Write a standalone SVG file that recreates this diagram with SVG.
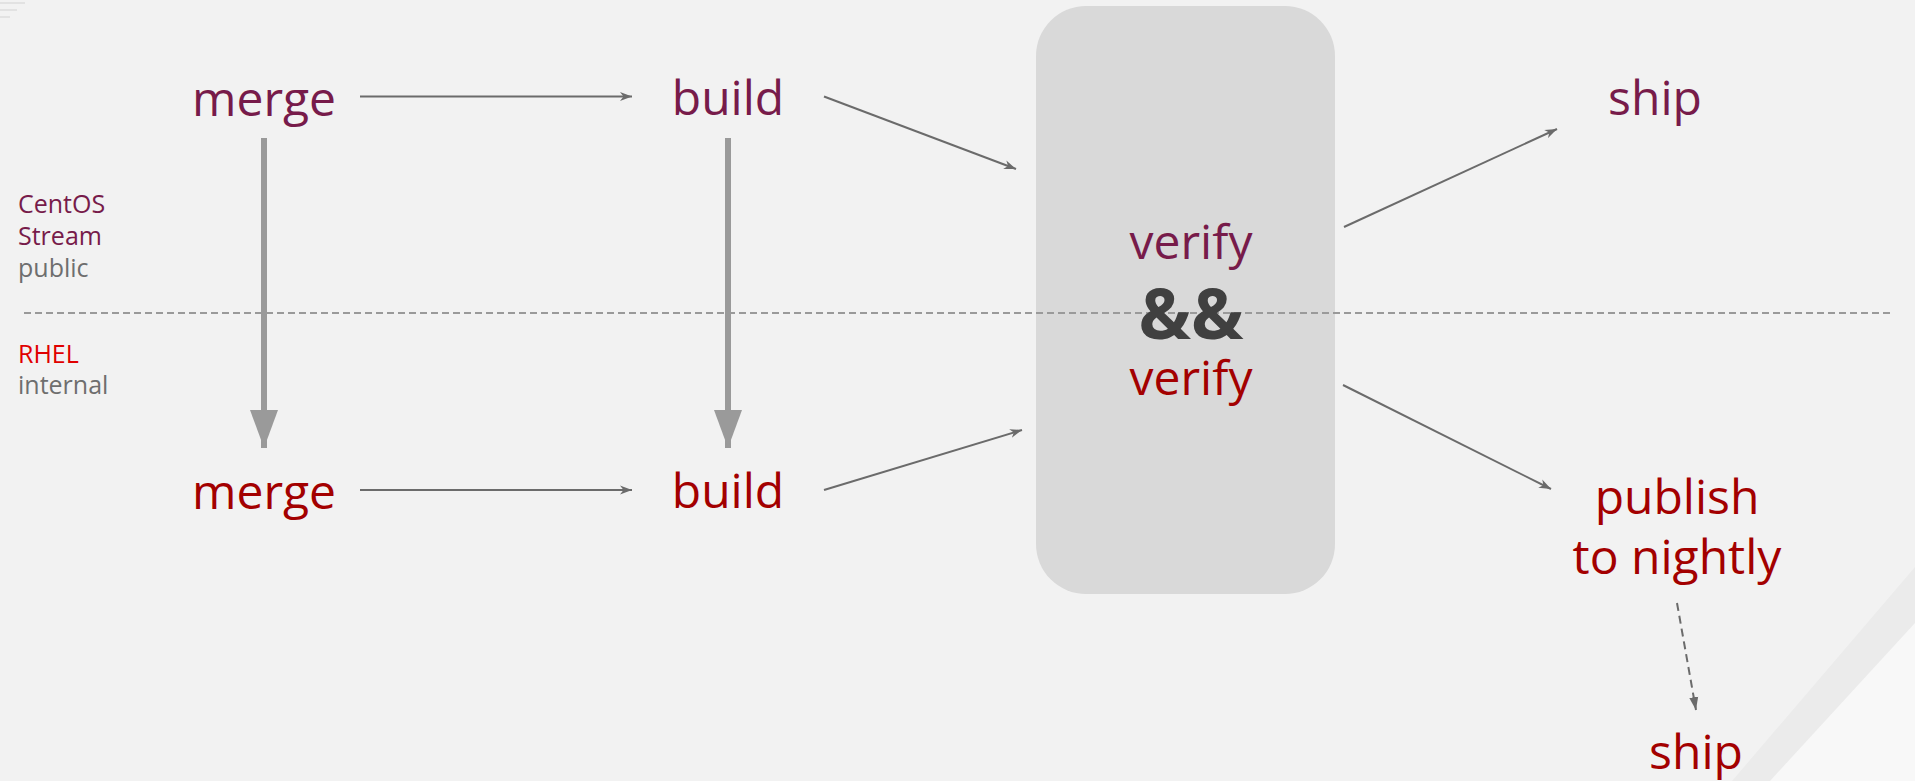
<svg xmlns="http://www.w3.org/2000/svg" width="1915" height="781" viewBox="0 0 1915 781">
  <style>
    .t { font-family: "Open Sans", "Liberation Sans", sans-serif; font-size: 48px; text-anchor: middle; }
    .amp { font-size: 70px; font-weight: bold; fill: #404040; }
    .pub { fill: #771b4a; }
    .int { fill: #a30000; }
    .leg { font-family: "Open Sans", "Liberation Sans", sans-serif; font-size: 25px; }
    .gray { fill: #6e6e6e; }
    .thin { stroke: #6b6b6b; stroke-width: 2; fill: none; marker-end: url(#ah); }
    .thick { stroke: #9a9a9a; stroke-width: 6; fill: none; marker-end: url(#bh); }
  </style>
  <defs>
    <marker id="ah" markerUnits="userSpaceOnUse" markerWidth="13" markerHeight="10" refX="12" refY="4.5" orient="auto" viewBox="0 0 13 9">
      <path d="M0,0 L12,4.5 L0,9 L3.5,4.5 z" fill="#6b6b6b"/>
    </marker>
    <marker id="bh" markerUnits="userSpaceOnUse" markerWidth="38" markerHeight="28" refX="38" refY="14" orient="auto" viewBox="0 0 38 28">
      <path d="M0,0 L38,14 L0,28 z" fill="#9a9a9a"/>
    </marker>
    <marker id="dh" markerUnits="userSpaceOnUse" markerWidth="13" markerHeight="10" refX="13" refY="4.5" orient="auto" viewBox="0 0 13 9">
      <path d="M0,0 L13,4.5 L0,9 z" fill="#6b6b6b"/>
    </marker>
  </defs>

  <rect x="0" y="0" width="1915" height="781" fill="#f2f2f2"/>
  <polygon points="1915,567 1732,781 1915,781" fill="#ebebeb"/>
  <polygon points="1915,623 1770,781 1915,781" fill="#f8f8f8"/>
  <g stroke="#e2e2e2" stroke-width="2">
    <line x1="0" y1="3" x2="25" y2="3"/>
    <line x1="0" y1="10" x2="17" y2="10"/>
    <line x1="0" y1="17" x2="10" y2="17"/>
  </g>

  <g id="legend">
    <text class="leg pub" x="18" y="213">CentOS</text>
    <text class="leg pub" x="18" y="245">Stream</text>
    <text class="leg gray" x="18" y="277">public</text>
    <text class="leg" x="18" y="363" fill="#e00000">RHEL</text>
    <text class="leg gray" x="18" y="394">internal</text>
  </g>

  <g id="verify">
    <rect x="1036" y="6" width="299" height="588" rx="50" ry="50" fill="#d9d9d9"/>
  </g>

  <line x1="24" y1="313" x2="1893" y2="313" stroke="#9a9a9a" stroke-width="2" stroke-dasharray="7 4"/>

  <g id="verify-text">
    <text class="t pub" x="1191" y="259">verify</text>
    <text class="t amp" x="1191" y="339">&amp;&amp;</text>
    <text class="t int" x="1191" y="395">verify</text>
  </g>

  <g id="connectors">
    <line class="thick" x1="264" y1="138" x2="264" y2="448"/>
    <line class="thick" x1="728" y1="138" x2="728" y2="448"/>
    <line class="thin" x1="360" y1="96.5" x2="632" y2="96.5"/>
    <line class="thin" x1="360" y1="490" x2="632" y2="490"/>
    <line class="thin" x1="824" y1="96.5" x2="1016" y2="169"/>
    <line class="thin" x1="824" y1="490" x2="1022" y2="430"/>
    <line class="thin" x1="1344" y1="227" x2="1557" y2="129"/>
    <line class="thin" x1="1343" y1="385" x2="1551" y2="489"/>
    <line x1="1677" y1="603" x2="1696" y2="710" stroke="#6b6b6b" stroke-width="2" stroke-dasharray="8 5" marker-end="url(#dh)"/>
  </g>

  <g id="merge-public"><text class="t pub" x="264" y="116">merge</text></g>
  <g id="build-public"><text class="t pub" x="728" y="115">build</text></g>
  <g id="ship-public"><text class="t pub" x="1655" y="115">ship</text></g>
  <g id="merge-internal"><text class="t int" x="264" y="509">merge</text></g>
  <g id="build-internal"><text class="t int" x="728" y="508">build</text></g>
  <g id="publish-nightly">
    <text class="t int" x="1677" y="514">publish</text>
    <text class="t int" x="1677" y="574">to nightly</text>
  </g>
  <g id="ship-internal"><text class="t int" x="1696" y="769">ship</text></g>
</svg>
